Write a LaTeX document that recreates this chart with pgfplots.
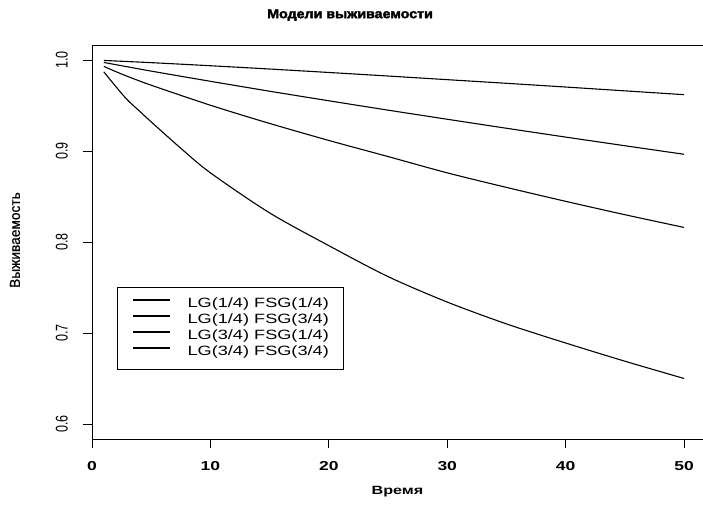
\documentclass[border=0pt]{standalone}
\usepackage{fontspec}
\setmainfont{Liberation Sans}
\newfontfamily\hfont[FakeStretch=1.35]{Liberation Sans}
\newfontfamily\tfont[FakeStretch=1.1, FakeBold=2.5]{Liberation Sans Bold}
\newfontfamily\vfont[FakeStretch=0.74]{Liberation Sans}
\newfontfamily\yfont[FakeStretch=0.95, FakeBold=0.8]{Liberation Sans}
\usepackage{pgfplots}
\pgfplotsset{compat=1.18}
\pgfplotstableread{
t s
1 0.9995
5 0.9971
10 0.9937
15 0.9901
20 0.9863
25 0.9824
30 0.9784
35 0.9744
40 0.9703
45 0.9661
50 0.9619
}\curveA
\pgfplotstableread{
t s
1 0.9973
5 0.9878
10 0.9766
15 0.9657
20 0.9552
25 0.9449
30 0.9349
35 0.9250
40 0.9153
45 0.9058
50 0.8964
}\curveB
\pgfplotstableread{
t s
1 0.9930
2 0.9873
3 0.9820
5 0.9723
10 0.9503
15 0.9303
20 0.9116
25 0.8939
30 0.8760
35 0.8600
40 0.8447
45 0.8300
50 0.8160
}\curveC
\pgfplotstableread{
t s
1 0.987
2 0.971
3 0.956
4 0.944
5 0.932
7.5 0.903
10 0.876
15 0.832
20 0.796
25 0.762
30 0.734
35 0.710
40 0.689
45 0.669
50 0.650
}\curveD
\begin{document}
\begin{tikzpicture}
\begin{axis}[
  scale only axis, width=611bp, height=394bp,
  xmin=0, xmax=51.6, ymin=0.5835, ymax=1.0165,
  axis line style={line width=0.9bp},
  xtick={0,10,20,30,40,50}, ytick={0.6,0.7,0.8,0.9,1.0},
  xtick pos=bottom, ytick pos=left,
  tick align=outside, major tick length=9bp,
  every tick/.style={black, line width=0.8bp},
  /pgf/number format/assume math mode=true,
  xticklabel style={font=\hfont\bfseries\fontsize{13}{13}\selectfont, anchor=north, inner sep=0pt, yshift=-13bp},
  yticklabel style={xshift=-15bp, rotate=90, anchor=south, inner sep=0pt, font=\vfont\fontsize{17}{16}\selectfont,
     /pgf/number format/fixed, /pgf/number format/fixed zerofill, /pgf/number format/precision=1},
  xlabel={Время},
  xlabel style={font=\hfont\bfseries\fontsize{12}{12}\selectfont, at={(axis description cs:0.5,0)}, anchor=center, yshift=-53bp},
  ylabel={Выживаемость},
  ylabel style={font=\yfont\fontsize{14.5}{15}\selectfont, at={([xshift=-77bp]axis description cs:0,0.505)}, anchor=center, rotate=0},
  title={Модели выживаемости},
  title style={font=\tfont\fontsize{13}{13}\selectfont, at={(axis description cs:0.4223,1)}, anchor=center, yshift=24bp},
  legend style={at={(axis cs:2.11,0.7509)}, anchor=north west, draw=black, line width=0.8bp,
     inner xsep=15bp, inner ysep=9bp, /tikz/column sep=17bp,
     nodes={inner sep=0pt, text height=11bp, text depth=5bp},
     font=\hfont\fontsize{13.5}{15}\selectfont, cells={anchor=west}},
  legend image code/.code={\draw[#1, line width=1.2bp] (0bp,4bp) -- (37bp,4bp);},
  cycle list={black, line width=1.1bp, no markers, smooth\\},
]
\addplot table[x=t,y=s] {\curveA};
\addplot table[x=t,y=s] {\curveB};
\addplot table[x=t,y=s] {\curveC};
\addplot table[x=t,y=s] {\curveD};
\legend{LG(1/4) FSG(1/4), LG(1/4) FSG(3/4), LG(3/4) FSG(1/4), LG(3/4) FSG(3/4)}
\end{axis}
\pgfresetboundingbox
\path ([shift={(-92bp,-68bp)}]current axis.south west) rectangle ++(703bp,507bp);
\end{tikzpicture}
\end{document}
